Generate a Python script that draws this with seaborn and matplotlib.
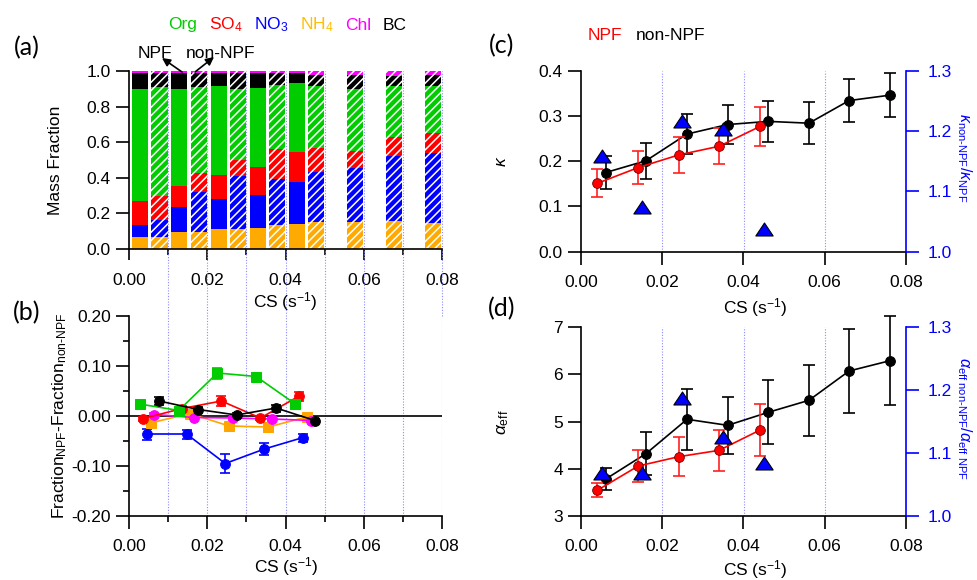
import matplotlib
matplotlib.use("Agg")
import matplotlib.pyplot as plt
from matplotlib.path import Path
from matplotlib.markers import MarkerStyle
from matplotlib.ticker import MultipleLocator, FormatStrFormatter
import seaborn as sns
import numpy as np

# ---------------- data ----------------
species = ["Org", "SO4", "NO3", "NH4", "Chl", "BC"]

# (a) mass fractions per condensation-sink bin
cs_bar_npf = [0.0029, 0.0129, 0.0229, 0.0329, 0.0429]
cs_bar_non = [0.0078, 0.0178, 0.0278, 0.0378, 0.0478, 0.0578, 0.0678, 0.0778]

npf_nh4 = [0.069, 0.094, 0.110, 0.120, 0.140]
npf_no3 = [0.064, 0.140, 0.169, 0.181, 0.236]
npf_so4 = [0.139, 0.120, 0.135, 0.158, 0.171]
npf_org = [0.625, 0.543, 0.502, 0.445, 0.383]
npf_bc = [0.093, 0.093, 0.074, 0.086, 0.060]
npf_chl = [0.010, 0.010, 0.010, 0.010, 0.010]

non_nh4 = [0.069, 0.094, 0.110, 0.137, 0.152, 0.154, 0.160, 0.148]
non_no3 = [0.094, 0.224, 0.302, 0.254, 0.281, 0.299, 0.362, 0.393]
non_so4 = [0.137, 0.107, 0.088, 0.169, 0.136, 0.097, 0.105, 0.109]
non_org = [0.612, 0.487, 0.397, 0.359, 0.347, 0.349, 0.289, 0.268]
non_bc = [0.075, 0.075, 0.090, 0.068, 0.064, 0.079, 0.058, 0.058]
non_chl = [0.013, 0.013, 0.013, 0.013, 0.020, 0.022, 0.026, 0.024]

# (b) Fraction_NPF - Fraction_non-NPF
cs_b_org = [0.0027, 0.0127, 0.0226, 0.0325, 0.0425]
diff_org = [0.024, 0.011, 0.086, 0.079, 0.024]
err_org = [0.006, 0.004, 0.011, 0.008, 0.006]
cs_b_so4 = [0.0036, 0.0136, 0.0236, 0.0336, 0.0435]
diff_so4 = [-0.005, 0.015, 0.030, -0.004, 0.040]
err_so4 = [0.004, 0.005, 0.010, 0.004, 0.009]
cs_b_no3 = [0.0045, 0.0147, 0.0246, 0.0346, 0.0445]
diff_no3 = [-0.036, -0.036, -0.095, -0.066, -0.043]
err_no3 = [0.011, 0.009, 0.019, 0.012, 0.008]
cs_b_nh4 = [0.0055, 0.0155, 0.0256, 0.0356, 0.0454]
diff_nh4 = [-0.014, 0.005, -0.020, -0.022, -0.002]
err_nh4 = [0.004, 0.003, 0.006, 0.006, 0.003]
cs_b_chl = [0.0065, 0.0166, 0.0266, 0.0366, 0.0466]
diff_chl = [0.003, -0.003, -0.004, -0.006, -0.009]
err_chl = [0.003, 0.003, 0.003, 0.003, 0.003]
cs_b_bc = [0.0077, 0.0177, 0.0275, 0.0376, 0.0475]
diff_bc = [0.030, 0.013, 0.002, 0.016, -0.009]
err_bc = [0.008, 0.005, 0.005, 0.007, 0.004]

# (c)/(d) hygroscopicity and alpha_eff
cs_npf = [0.0040, 0.0141, 0.0241, 0.0340, 0.0441]
cs_non = [0.0061, 0.0160, 0.0261, 0.0361, 0.0461, 0.0561, 0.0660, 0.0761]
cs_ratio = [0.0051, 0.0150, 0.0249, 0.0349, 0.0450]

kappa_npf = [0.151, 0.186, 0.214, 0.233, 0.277]
kappa_npf_err = [0.031, 0.036, 0.040, 0.040, 0.043]
kappa_non = [0.175, 0.201, 0.260, 0.281, 0.288, 0.284, 0.334, 0.346]
kappa_non_err = [0.037, 0.040, 0.045, 0.044, 0.046, 0.047, 0.048, 0.048]
kappa_ratio = [1.158, 1.074, 1.217, 1.203, 1.038]

alpha_npf = [3.544, 4.060, 4.258, 4.392, 4.823]
alpha_npf_err = [0.15, 0.34, 0.41, 0.43, 0.56]
alpha_non = [3.784, 4.322, 5.050, 4.922, 5.198, 5.452, 6.074, 6.293]
alpha_non_err = [0.24, 0.45, 0.65, 0.60, 0.68, 0.755, 0.89, 0.95]
alpha_ratio = [1.069, 1.068, 1.187, 1.126, 1.084]

# ---------------- style ----------------
sns.set_theme(style="ticks")
plt.rcParams.update({
    "font.family": ["Liberation Sans", "DejaVu Sans"],
    "mathtext.fontset": "custom",
    "mathtext.rm": "Liberation Sans",
    "mathtext.it": "Liberation Sans:italic",
    "mathtext.bf": "Liberation Sans:bold",
    "mathtext.sf": "Liberation Sans",
    "axes.unicode_minus": False,
    "axes.edgecolor": "black",
    "axes.linewidth": 1.2,
    "text.color": "black",
    "xtick.color": "black",
    "ytick.color": "black",
    "hatch.linewidth": 1.1,
})

C_ORG = "#00CC00"
C_SO4 = "#FF0000"
C_NO3 = "#0000FF"
C_NH4 = "#FFAA00"
C_CHL = "#FF00FF"
C_BC = "#000000"
GRID_C = "#8c8cff"
FS = 12.5

W, H = 977, 580
fig = plt.figure(figsize=(W / 100, H / 100), dpi=100)


def rect(l, t, r, b):
    return [l / W, 1 - b / H, (r - l) / W, (b - t) / H]


def fp(x, y):
    return (x / W, 1 - y / H)


ax_a = fig.add_axes(rect(129, 71, 442, 249))
ax_b = fig.add_axes(rect(129, 316, 442, 516))
ax_c = fig.add_axes(rect(581, 70.7, 906, 251.7))
ax_d = fig.add_axes(rect(581, 327.3, 906, 516))

for ax in (ax_a, ax_b, ax_c, ax_d):
    ax.set_facecolor("none")
    ax.spines["top"].set_visible(False)
    ax.spines["right"].set_visible(False)
    ax.tick_params(which="major", length=9.5, width=1.2, labelsize=FS, direction="out")
    ax.tick_params(which="minor", length=4.5, width=1.2, direction="out")
    ax.tick_params(axis="x", pad=7)
    ax.tick_params(axis="y", pad=3.5)

# ---------------- (a) ----------------
bar_w = 0.0041
npf_stack = [(npf_nh4, C_NH4), (npf_no3, C_NO3), (npf_so4, C_SO4),
             (npf_org, C_ORG), (npf_bc, C_BC), (npf_chl, C_CHL)]
non_stack = [(non_nh4, C_NH4), (non_no3, C_NO3), (non_so4, C_SO4),
             (non_org, C_ORG), (non_bc, C_BC), (non_chl, C_CHL)]


def draw_stack(ax, xs, comps, hatched):
    bottom = np.zeros(len(xs))
    for vals, col in comps:
        if hatched:
            ax.bar(xs, vals, width=bar_w, bottom=bottom, color=col, hatch="////",
                   edgecolor="white", linewidth=0, zorder=2)
        else:
            ax.bar(xs, vals, width=bar_w, bottom=bottom, color=col,
                   edgecolor="none", linewidth=0, zorder=2)
        bottom = bottom + np.asarray(vals)


draw_stack(ax_a, cs_bar_npf, npf_stack, False)
draw_stack(ax_a, cs_bar_non, non_stack, True)
ax_a.set_xlim(0, 0.08)
ax_a.set_ylim(0, 1.0)
ax_a.xaxis.set_major_locator(MultipleLocator(0.02))
ax_a.xaxis.set_minor_locator(MultipleLocator(0.01))
ax_a.xaxis.set_major_formatter(FormatStrFormatter("%.2f"))
ax_a.yaxis.set_major_locator(MultipleLocator(0.2))
ax_a.yaxis.set_major_formatter(FormatStrFormatter("%.1f"))
ax_a.tick_params(axis="x", which="major", length=8, pad=9)

gap_frac = (316 - 249) / (249 - 71)
for xv in np.arange(0.01, 0.0801, 0.01):
    ax_a.axvline(xv, ymin=-gap_frac, ymax=1, color=GRID_C, lw=0.8,
                 ls=(0, (1, 1.5)), clip_on=False, zorder=1)
    ax_b.axvline(xv, color=GRID_C, lw=0.8, ls=(0, (1, 1.5)), zorder=1)

# legend text
leg_cols = [C_ORG, C_SO4, C_NO3, "#FFC000", C_CHL, C_BC]
leg_txt = ["Org", "SO$_4$", "NO$_3$", "NH$_4$", "Chl", "BC"]
leg_x = [168, 209, 254, 300, 345, 383]
for t, c, x in zip(leg_txt, leg_cols, leg_x):
    fig.text(*fp(x, 25), t, color=c, fontsize=FS, ha="left", va="center")

fig.text(*fp(138, 54), "NPF", fontsize=FS, ha="left", va="center")
fig.text(*fp(186, 54), "non-NPF", fontsize=FS, ha="left", va="center")
arrow = dict(arrowstyle="-|>", color="black", lw=1.2, mutation_scale=12,
             shrinkA=0, shrinkB=0)
fig.add_artist(matplotlib.patches.FancyArrowPatch(fp(182, 72), fp(162, 58),
                                                  transform=fig.transFigure, **arrow))
fig.add_artist(matplotlib.patches.FancyArrowPatch(fp(195, 72), fp(214, 57),
                                                  transform=fig.transFigure, **arrow))

fig.text(*fp(55, 160), "Mass Fraction", rotation=90, fontsize=FS, ha="center", va="center")
fig.text(*fp(285, 302), "CS (s$^{-1}$)", fontsize=FS, ha="center", va="center")

# ---------------- (b) ----------------
ax_b.axhline(0, color="black", lw=1.2, zorder=2)
series_b = [
    (cs_b_no3, diff_no3, err_no3, C_NO3, "o"),
    (cs_b_nh4, diff_nh4, err_nh4, "#FFA500", "s"),
    (cs_b_chl, diff_chl, err_chl, C_CHL, "o"),
    (cs_b_so4, diff_so4, err_so4, C_SO4, "o"),
    (cs_b_org, diff_org, err_org, C_ORG, "s"),
    (cs_b_bc, diff_bc, err_bc, C_BC, "o"),
]
for x, y, e, c, m in series_b:
    ax_b.errorbar(x, y, yerr=e, fmt="none", ecolor=c, elinewidth=1.2,
                  capsize=3.5, capthick=1.2, zorder=3)
    sns.lineplot(x=x, y=y, color=c, marker=m, markersize=7, markeredgecolor=c,
                 linewidth=1.2, ax=ax_b, estimator=None, sort=False, legend=False,
                 zorder=4)
ax_b.set_xlim(0, 0.08)
ax_b.set_ylim(-0.2, 0.2)
ax_b.xaxis.set_major_locator(MultipleLocator(0.02))
ax_b.xaxis.set_minor_locator(MultipleLocator(0.01))
ax_b.xaxis.set_major_formatter(FormatStrFormatter("%.2f"))
ax_b.yaxis.set_major_locator(MultipleLocator(0.1))
ax_b.yaxis.set_minor_locator(MultipleLocator(0.05))
ax_b.yaxis.set_major_formatter(FormatStrFormatter("%.2f"))
ax_b.set_xlabel("")
ax_b.set_ylabel("")
fig.text(*fp(60, 416), r"Fraction$_{\mathrm{NPF}}$-Fraction$_{\text{non-NPF}}$",
         rotation=90, fontsize=FS, ha="center", va="center")
fig.text(*fp(286, 567), "CS (s$^{-1}$)", fontsize=FS, ha="center", va="center")

# ---------------- (c) & (d) ----------------
tri = MarkerStyle(Path([(-1, -0.75), (1, -0.75), (0, 0.75), (-1, -0.75)],
                       [Path.MOVETO, Path.LINETO, Path.LINETO, Path.CLOSEPOLY]))


def hyg_panel(ax, y_npf, e_npf, y_non, e_non, ratio, ylim, ystep, yfmt):
    for xv in (0.02, 0.04, 0.06):
        ax.axvline(xv, color=GRID_C, lw=0.8, ls=(0, (1, 1.5)), zorder=1)
    ax.errorbar(cs_non, y_non, yerr=e_non, fmt="none", ecolor="black",
                elinewidth=1.2, capsize=4.2, capthick=1.2, zorder=3, clip_on=False)
    sns.lineplot(x=cs_non, y=y_non, color="black", marker="o", markersize=7,
                 markeredgecolor="black", linewidth=1.2, ax=ax, estimator=None,
                 sort=False, legend=False, zorder=4)
    ax.errorbar(cs_npf, y_npf, yerr=e_npf, fmt="none", ecolor="#FF2020",
                elinewidth=1.2, capsize=4.2, capthick=1.2, zorder=5)
    sns.lineplot(x=cs_npf, y=y_npf, color="red", marker="o", markersize=7,
                 markeredgecolor="#700000", markeredgewidth=0.6, linewidth=1.2, ax=ax,
                 estimator=None, sort=False, legend=False, zorder=6)
    ax.set_xlim(0, 0.08)
    ax.set_ylim(*ylim)
    ax.xaxis.set_major_locator(MultipleLocator(0.02))
    ax.xaxis.set_major_formatter(FormatStrFormatter("%.2f"))
    ax.yaxis.set_major_locator(MultipleLocator(ystep))
    ax.yaxis.set_major_formatter(FormatStrFormatter(yfmt))
    ax.set_xlabel("")
    ax.set_ylabel("")
    ax2 = ax.twinx()
    sns.scatterplot(x=cs_ratio, y=ratio, marker=tri, s=155, color="#0000FF",
                    edgecolor="black", linewidth=0.8, ax=ax2, legend=False,
                    zorder=7, clip_on=False)
    ax2.set_ylim(1.0, 1.3)
    ax2.yaxis.set_major_locator(MultipleLocator(0.1))
    ax2.yaxis.set_major_formatter(FormatStrFormatter("%.1f"))
    for s in ("top", "left", "bottom"):
        ax2.spines[s].set_visible(False)
    ax2.spines["right"].set_color("blue")
    ax2.spines["right"].set_linewidth(1.2)
    ax2.tick_params(axis="y", colors="blue", length=9.5, width=1.2,
                    labelsize=FS, pad=6, direction="out")
    ax2.set_ylabel("")
    return ax2


hyg_panel(ax_c, kappa_npf, kappa_npf_err, kappa_non, kappa_non_err, kappa_ratio,
          (0, 0.4), 0.1, "%.1f")
hyg_panel(ax_d, alpha_npf, alpha_npf_err, alpha_non, alpha_non_err, alpha_ratio,
          (3, 7), 1, "%d")

fig.text(*fp(588, 35), "NPF", color="red", fontsize=FS, ha="left", va="center")
fig.text(*fp(636, 35), "non-NPF", color="black", fontsize=FS, ha="left", va="center")

fig.text(*fp(502, 161), r"$\kappa$", rotation=90, fontsize=FS, ha="center", va="center")
fig.text(*fp(503, 422), r"$\alpha_{\mathrm{eff}}$", rotation=90, fontsize=FS,
         ha="center", va="center")
fig.text(*fp(964, 158), r"$\kappa_{\text{non-NPF}}$/$\kappa_{\mathrm{NPF}}$",
         rotation=-90, fontsize=11.5, color="blue", ha="center", va="center")
fig.text(*fp(964, 418), r"$\alpha_{\text{eff non-NPF}}$/$\alpha_{\text{eff NPF}}$",
         rotation=-90, fontsize=11.5, color="blue", ha="center", va="center")
fig.text(*fp(755, 308), "CS (s$^{-1}$)", fontsize=FS, ha="center", va="center")
fig.text(*fp(755, 570), "CS (s$^{-1}$)", fontsize=FS, ha="center", va="center")

# panel tags
for t, x, y in (("(a)", 27, 48), ("(b)", 27, 313), ("(c)", 502, 46), ("(d)", 502, 309)):
    fig.text(*fp(x, y), t, fontsize=18, family=["Lato", "DejaVu Sans"],
             ha="center", va="center")

fig.savefig("out.png", dpi=100)
